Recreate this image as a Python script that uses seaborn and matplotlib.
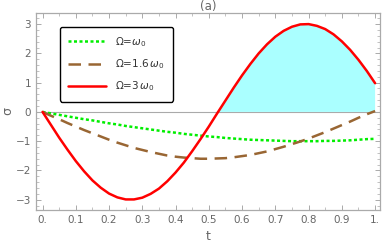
import numpy as np
import pandas as pd
import matplotlib
matplotlib.use("Agg")
import matplotlib.pyplot as plt
import seaborn as sns
from matplotlib.ticker import MultipleLocator, FixedLocator

t = [0.0, 0.025, 0.05, 0.075, 0.1, 0.125, 0.15, 0.175, 0.2, 0.225, 0.25,
     0.275, 0.3, 0.325, 0.35, 0.375, 0.4, 0.425, 0.45, 0.475, 0.5,
     0.525, 0.55, 0.575, 0.6, 0.625, 0.65, 0.675, 0.7, 0.725, 0.75,
     0.775, 0.8, 0.825, 0.85, 0.875, 0.9, 0.925, 0.95, 0.975, 1.0]

sigma_1 = [0.0, -0.05, -0.10, -0.15, -0.20, -0.25, -0.29, -0.34, -0.39, -0.43, -0.48,
           -0.52, -0.56, -0.60, -0.64, -0.68, -0.71, -0.75, -0.78, -0.81, -0.84,
           -0.86, -0.89, -0.91, -0.93, -0.95, -0.96, -0.97, -0.98, -0.99, -1.00,
           -1.00, -1.00, -1.00, -0.99, -0.99, -0.98, -0.97, -0.95, -0.93, -0.92]

sigma_16 = [0.0, -0.13, -0.25, -0.38, -0.50, -0.62, -0.73, -0.84, -0.95, -1.05, -1.14,
            -1.23, -1.30, -1.37, -1.43, -1.49, -1.53, -1.56, -1.58, -1.60, -1.60,
            -1.59, -1.58, -1.55, -1.51, -1.47, -1.41, -1.35, -1.27, -1.19, -1.10,
            -1.01, -0.91, -0.80, -0.69, -0.57, -0.45, -0.33, -0.20, -0.08, 0.03]

sigma_3 = [0.0, -0.44, -0.88, -1.29, -1.68, -2.03, -2.34, -2.59, -2.79, -2.92, -2.99,
           -2.99, -2.93, -2.80, -2.62, -2.37, -2.07, -1.73, -1.34, -0.93, -0.50,
           -0.05, 0.39, 0.83, 1.25, 1.64, 2.00, 2.31, 2.57, 2.77, 2.91,
           2.99, 3.00, 2.94, 2.83, 2.65, 2.41, 2.12, 1.78, 1.40, 0.98]

labels = [r"Ω=$\omega_0$", r"Ω=1.6$\,\omega_0$", r"Ω=3$\,\omega_0$"]

sns.set_style("ticks")
gray = "#666666"
plt.rcParams["font.family"] = ["DejaVu Sans"]

fig = plt.figure(figsize=(3.82, 2.45), dpi=100)
ax = fig.add_axes([0.094, 0.143, 0.901, 0.804])

df = pd.DataFrame({"t": t, "s1": sigma_1, "s16": sigma_16, "s3": sigma_3})

ax.axhline(0, color="#aaaaaa", lw=0.8, zorder=1)
ax.fill_between(df["t"], df["s3"], 0, where=df["s3"] >= 0, interpolate=True,
                color="#aaffff", lw=0, zorder=1)

sns.lineplot(data=df, x="t", y="s1", ax=ax, color="#00ee00", lw=1.8,
             label=labels[0], zorder=3)
sns.lineplot(data=df, x="t", y="s16", ax=ax, color="#996633", lw=1.8,
             label=labels[1], zorder=3)
sns.lineplot(data=df, x="t", y="s3", ax=ax, color="#ff0000", lw=1.8,
             label=labels[2], zorder=4)
ax.lines[1].set_linestyle((0, (1.2, 1.0)))
ax.lines[2].set_linestyle((0, (5, 3)))

ax.set_xlim(-0.02, 1.015)
ax.set_ylim(-3.35, 3.38)

ax.xaxis.set_major_locator(FixedLocator(np.arange(0, 1.01, 0.1)))
ax.set_xticklabels(["0.", "0.1", "0.2", "0.3", "0.4", "0.5", "0.6", "0.7",
                    "0.8", "0.9", "1."])
ax.xaxis.set_minor_locator(MultipleLocator(0.05))
ax.set_yticks([-3, -2, -1, 0, 1, 2, 3])
ax.set_yticklabels(["\u22123", "\u22122", "\u22121", "0", "1", "2", "3"])
ax.yaxis.set_minor_locator(MultipleLocator(0.2))

ax.tick_params(which="both", direction="in", top=True, right=True,
               color="#aaaaaa", labelcolor=gray, labelsize=7.5)
ax.tick_params(which="major", length=3.5, width=0.7)
ax.tick_params(which="minor", length=2, width=0.5)
for sp in ax.spines.values():
    sp.set_color("#aaaaaa")
    sp.set_linewidth(0.9)

ax.set_xlabel("t", color=gray, fontsize=9, labelpad=4)
ax.set_ylabel("σ", color=gray, fontsize=9, va="center")
ax.yaxis.set_label_coords(-0.082, 0.5)
ax.set_title("(a)", color=gray, fontsize=8.5, pad=2)

leg = ax.legend(loc="upper left", bbox_to_anchor=(0.07, 0.93), fontsize=7.5,
                frameon=True, fancybox=True, handlelength=3.6, labelspacing=0.8,
                borderpad=0.8, handletextpad=0.9, borderaxespad=0)
leg.get_frame().set_edgecolor("black")
leg.get_frame().set_linewidth(1.0)
leg.get_frame().set_alpha(1)
for txt in leg.get_texts():
    txt.set_color("#333333")

fig.savefig("out.png", dpi=100)
